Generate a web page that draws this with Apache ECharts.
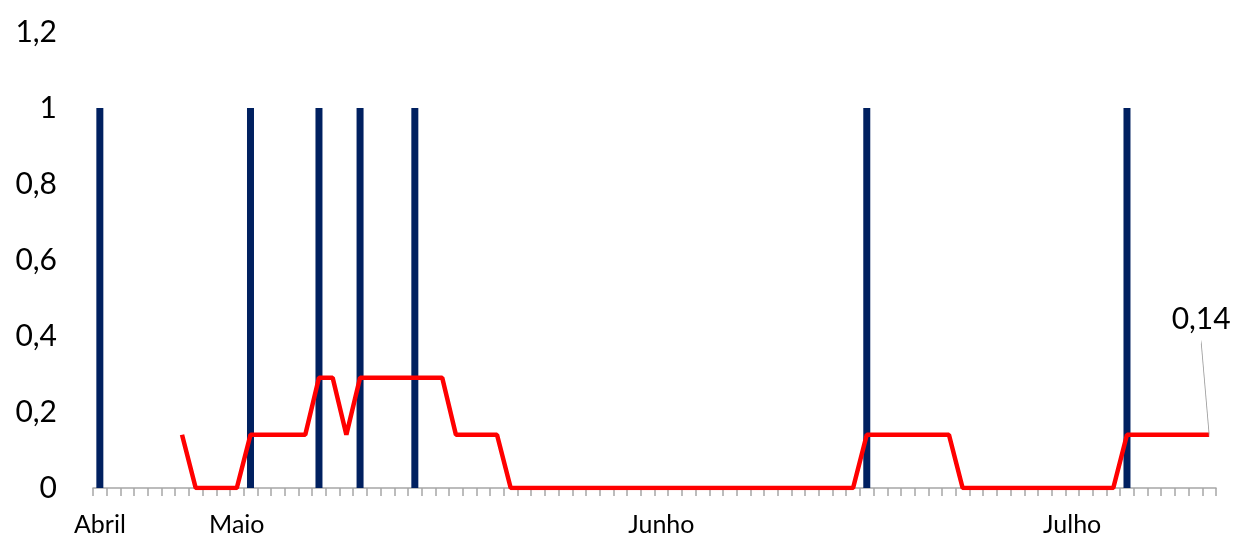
<!DOCTYPE html>
<html>
<head>
<meta charset="utf-8">
<script src="https://cdn.jsdelivr.net/npm/echarts@6/dist/echarts.min.js"></script>
<style>html,body{margin:0;padding:0;background:#fff}#c{width:1239px;height:537px}</style>
</head>
<body>
<div id="c"></div>
<script>
// 82 categories; month labels placed at their positions, others blank
var categories = [
  'Abril','','','','','','','','','',
  'Maio','','','','','','','','','',
  '','','','','','','','','','',
  '','','','','','','','','','',
  '','Junho','','','','','','','','',
  '','','','','','','','','','',
  '','','','','','','','','','',
  '','Julho','','','','','','','','',
  '',''
];
var eventBars = [
  1,0,0,0,0,0,0,0,0,0,
  0,1,0,0,0,0,1,0,0,1,
  0,0,0,1,0,0,0,0,0,0,
  0,0,0,0,0,0,0,0,0,0,
  0,0,0,0,0,0,0,0,0,0,
  0,0,0,0,0,0,1,0,0,0,
  0,0,0,0,0,0,0,0,0,0,
  0,0,0,0,0,1,0,0,0,0,
  0,0
];
var lineValues = [
  null,null,null,null,null,null,0.14,0,0,0,
  0,0.14,0.14,0.14,0.14,0.14,0.29,0.29,0.14,0.29,
  0.29,0.29,0.29,0.29,0.29,0.29,0.14,0.14,0.14,0.14,
  0,0,0,0,0,0,0,0,0,0,
  0,0,0,0,0,0,0,0,0,0,
  0,0,0,0,0,0,0.14,0.14,0.14,0.14,
  0.14,0.14,0.14,0,0,0,0,0,0,0,
  0,0,0,0,0,0.14,0.14,0.14,0.14,0.14,
  0.14,0.14
];
var yTickLabels = {'0':'0','0.2':'0,2','0.4':'0,4','0.6':'0,6','0.8':'0,8','1':'1','1.2':'1,2'};

var lastIdx = lineValues.length - 1;
var lastValue = lineValues[lastIdx];
var barData = eventBars.map(function (v) { return v ? v : null; });

var chart = echarts.init(document.getElementById('c'), null, {renderer: 'canvas'});
chart.setOption({
  animation: false,
  textStyle: {fontFamily: 'Lato'},
  grid: {left: 93, right: 23, top: 32, bottom: 47, containLabel: false},
  xAxis: {
    type: 'category',
    data: categories,
    boundaryGap: true,
    axisLine: {show: true, lineStyle: {color: '#a6a6a6', width: 1.5}},
    axisTick: {show: true, interval: 0, length: 8, lineStyle: {color: '#a6a6a6', width: 1.5}},
    axisLabel: {interval: 0, color: '#000', fontSize: 25, fontFamily: 'Lato', margin: 24},
    splitLine: {show: false}
  },
  yAxis: {
    type: 'value',
    min: 0, max: 1.2, interval: 0.2,
    axisLine: {show: false},
    axisTick: {show: false},
    splitLine: {show: false},
    axisLabel: {
      color: '#000', fontSize: 30, fontFamily: 'Lato', margin: 36,
      formatter: function (v) { return yTickLabels[String(Math.round(v * 10) / 10)] || String(v).replace('.', ','); }
    }
  },
  series: [
    {
      type: 'bar',
      data: barData,
      barWidth: 7,
      itemStyle: {color: '#002060'},
      z: 1
    },
    {
      type: 'line',
      data: lineValues,
      showSymbol: false,
      symbol: 'none',
      connectNulls: false,
      lineStyle: {color: '#ff0000', width: 4.5},
      itemStyle: {color: '#ff0000'},
      z: 3,
      markPoint: {
        silent: true,
        symbol: 'path://M0,0 L8,93',
        symbolSize: [8, 93],
        symbolOffset: [-4, -46.5],
        itemStyle: {color: 'transparent', borderColor: '#9a9a9a', borderWidth: 2},
        label: {
          show: true, position: 'top', distance: 4, offset: [-4, 0],
          color: '#000', fontSize: 30, fontFamily: 'Lato',
          formatter: function (p) { return String(p.value).replace('.', ','); }
        },
        data: [{coord: [lastIdx, lastValue], value: lastValue}]
      }
    }
  ]
});
</script>
</body>
</html>
